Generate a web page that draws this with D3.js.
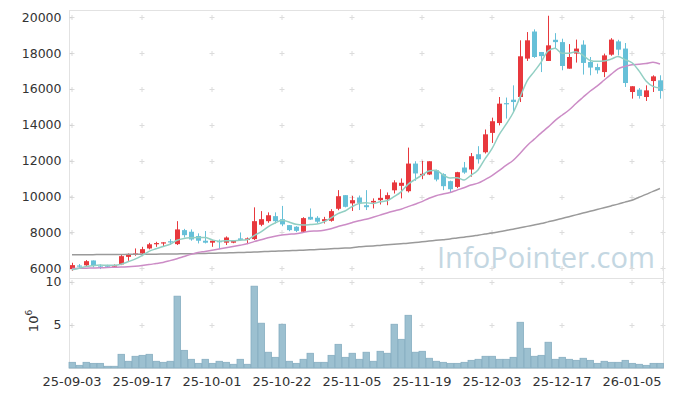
<!DOCTYPE html>
<html><head><meta charset="utf-8">
<script src="https://cdn.jsdelivr.net/npm/d3@7"></script>
<style>
html,body{margin:0;padding:0;background:#fff;}
svg text{font-family:"DejaVu Sans",sans-serif;fill:#333;}
</style></head>
<body><svg id="c" width="673" height="396"></svg>
<script>
const dates = ["25-09-03","25-09-04","25-09-05","25-09-08","25-09-09","25-09-10","25-09-11","25-09-12","25-09-15","25-09-16",
"25-09-17","25-09-18","25-09-19","25-09-22","25-09-23","25-09-24","25-09-25","25-09-26","25-09-29","25-09-30",
"25-10-01","25-10-02","25-10-10","25-10-13","25-10-14","25-10-15","25-10-16","25-10-17","25-10-20","25-10-21",
"25-10-22","25-10-23","25-10-24","25-10-27","25-10-28","25-10-29","25-10-30","25-10-31","25-11-03","25-11-04",
"25-11-05","25-11-06","25-11-07","25-11-10","25-11-11","25-11-12","25-11-13","25-11-14","25-11-17","25-11-18",
"25-11-19","25-11-20","25-11-21","25-11-24","25-11-25","25-11-26","25-11-27","25-11-28","25-12-01","25-12-02",
"25-12-03","25-12-04","25-12-05","25-12-08","25-12-09","25-12-10","25-12-11","25-12-12","25-12-15","25-12-16",
"25-12-17","25-12-18","25-12-19","25-12-22","25-12-23","25-12-24","25-12-26","25-12-29","25-12-30","26-01-02",
"26-01-05","26-01-06","26-01-07","26-01-08","26-01-09"];
const open = [5960,6160,6170,6440,6110,6170,6090,6220,6640,6780,
6830,7110,7360,7420,7510,7350,8130,8040,7800,7540,
7430,7520,7430,7430,7670,7580,7630,8430,8630,8910,
8740,8410,8320,8040,8870,8820,8630,8650,9320,10080,
9620,9950,9520,9670,9800,9850,10350,10600,10300,11840,
11180,11230,11470,11250,10860,10540,11620,11510,12360,12470,
13550,14100,15210,15400,15550,17690,19200,18060,17560,18740,
18610,17130,17970,18470,17500,17220,16940,17910,18650,18250,
15830,15960,15550,16440,16480];
const high = [6310,6240,6460,6440,6220,6200,6220,6780,6830,7110,
7200,7420,7480,7450,7630,8630,8200,8170,7950,8080,
7560,7610,7780,7560,8000,7720,9400,9190,9120,9120,
9480,8410,8350,8850,9340,8910,8870,9300,10360,10080,
10040,10060,10360,9900,10410,10230,10910,11010,12730,11970,
11990,11970,11500,11300,10890,11380,11930,12430,12810,13740,
14400,15550,15520,16200,18710,19170,19320,18060,20080,19110,
18800,18500,18750,18710,17780,17410,17970,18830,18740,18560,
16150,16050,16200,16760,16760];
const low = [5870,6030,6090,6050,5960,6050,6050,6180,6420,6700,
6680,7060,7200,7230,7300,7300,7720,7540,7390,7390,
7200,7070,7300,7400,7540,7350,7580,8350,8540,8500,
8350,8070,8020,8020,8700,8530,8500,8600,9240,9400,
9200,9250,9250,9340,9560,9520,10170,9900,10230,10880,
10970,11200,10850,10360,10250,10470,11270,11110,11840,12400,
12990,13970,14350,14720,15270,17560,17730,16940,17560,18240,
17040,17130,17470,16800,16760,16850,16660,17850,17870,16110,
15460,15460,15330,15830,15460];
const close = [6180,6130,6400,6130,6080,6090,6180,6680,6800,6830,
7070,7340,7410,7450,7450,8170,7850,7610,7540,7430,
7540,7460,7720,7540,7580,7670,8630,8740,8960,8630,
8450,8130,8090,8800,8720,8600,8740,9190,10020,9430,
9800,9650,9410,9760,9930,10080,10790,10770,11840,11290,
11270,11970,10950,10580,10410,11360,11340,12250,12080,13470,
14200,15180,15180,15270,17820,18710,17780,17830,18430,18610,
17280,17780,18250,17450,17190,17040,17870,18750,18190,16330,
16150,15610,15920,16700,15890];
const ma5 = [5920,6000,6100,6150,6184,6166,6176,6232,6366,6516,
6712,6944,7090,7220,7344,7564,7666,7706,7724,7720,
7594,7516,7538,7538,7568,7594,7828,8032,8316,8526,
8682,8582,8452,8420,8438,8468,8590,8810,9054,9196,
9436,9618,9662,9610,9710,9766,9994,10266,10682,10954,
11192,11428,11464,11212,11036,11054,10928,11188,11488,12100,
12668,13436,14022,14660,15530,16432,16952,17482,18114,18272,
17986,17986,18070,17874,17590,17542,17560,17660,17808,17636,
17458,17006,16440,16142,16054];
const ma20 = [5990,6000,6010,6020,6030,6050,6060,6070,6090,6120,
6160,6210,6270,6330,6430,6540,6660,6780,6880,6941,
7009,7076,7142,7212,7287,7366,7489,7592,7700,7790,
7859,7898,7932,8000,8063,8085,8129,8208,8332,8432,
8545,8655,8739,8850,8968,9088,9196,9298,9442,9575,
9716,9908,10051,10140,10224,10362,10492,10645,10748,10950,
11170,11447,11735,12011,12405,12837,13186,13539,13869,14235,
14535,14826,15191,15534,15873,16157,16484,16809,17114,17257,
17355,17376,17413,17485,17388];
const ma60 = [6760,6760,6765,6765,6770,6770,6775,6775,6780,6780,
6785,6790,6790,6795,6800,6805,6810,6815,6825,6830,
6840,6850,6860,6870,6880,6895,6910,6925,6940,6955,
6970,6985,7000,7015,7030,7050,7070,7090,7110,7130,
7150,7200,7225,7250,7280,7310,7340,7370,7400,7440,
7480,7520,7560,7600,7640,7690,7740,7790,7850,7910,
7970,8040,8110,8180,8260,8340,8420,8500,8590,8680,
8780,8880,8980,9080,9180,9280,9380,9480,9580,9690,
9800,9960,10120,10290,10450];
const volume = [0.66,0.31,0.66,0.54,0.54,0.2,0.2,1.59,0.78,1.36,
1.47,1.59,0.78,0.66,0.78,8.34,2.05,1.01,0.54,1.01,
0.54,0.78,0.66,0.43,1.01,0.43,9.5,5.2,1.83,1.24,
5.08,0.78,0.54,1.01,1.71,0.66,0.66,1.47,2.75,1.24,
1.71,1.01,1.83,0.78,1.94,1.71,5.08,3.33,6.12,1.83,
1.94,1.13,0.78,0.66,0.54,0.54,0.66,0.89,1.01,1.36,
1.36,1.01,1.01,1.24,5.31,2.29,1.36,1.47,2.99,1.01,
1.24,1.01,0.89,1.13,0.89,0.54,0.78,0.66,0.66,0.89,
0.54,0.43,0.31,0.54,0.54];
const priceTicks = [6000,8000,10000,12000,14000,16000,18000,20000];
const volTicks = [5,10];
const dateTicks = ["25-09-03","25-09-17","25-10-01","25-10-22","25-11-05","25-11-19","25-12-03","25-12-17","26-01-05"];

const svg = d3.select("#c");
const L = 69, R = 663, T = 10, SEP = 278, B = 368;
const x = d3.scaleBand().domain(dates).range([L - 0.5, R + 0.5]).padding(0);
const cx = d => x(d) + x.bandwidth() / 2;
const y = d3.scaleLinear().domain([5490, 20400]).range([277.5, T]);
const yv = d3.scaleLinear().domain([0, 10.45]).range([B, SEP]);

const UP = "#e8383d", DOWN = "#66c0d8";

// watermark: fit its natural width to the target span
const wm = svg.append("text").attr("x", 437).attr("y", 268)
  .style("font-family", "'Open Sans', sans-serif").style("font-size", "32px")
  .style("fill", "#c4d7e2").text("InfoPointer.com");
const wmW = wm.node().getComputedTextLength();
wm.style("font-size", (32 * 218 / wmW).toFixed(2) + "px");

// grid crosses
const crossG = svg.append("g").attr("stroke", "#dcdcdc").attr("stroke-width", 1);
const crossXs = dateTicks.map(cx).concat([R]);
function cross(px, py) {
  crossG.append("line").attr("x1", px - 2.5).attr("x2", px + 2.5).attr("y1", py).attr("y2", py);
  crossG.append("line").attr("x1", px).attr("x2", px).attr("y1", py - 2.5).attr("y2", py + 2.5);
}
crossXs.forEach(px => {
  priceTicks.forEach(t => cross(px, Math.round(y(t)) + 0.5));
  volTicks.forEach(t => cross(px, Math.round(yv(t)) + 0.5));
});

// frame
const frame = svg.append("g").attr("stroke", "#e2e2e2").attr("fill", "none");
frame.append("rect").attr("x", L + 0.5).attr("y", T + 0.5).attr("width", R - L).attr("height", B - T);
frame.append("line").attr("x1", L).attr("x2", R).attr("y1", SEP + 0.5).attr("y2", SEP + 0.5);

// y axes
const ya = svg.append("g").attr("transform", `translate(${L + 0.5},0)`)
  .call(d3.axisLeft(y).tickValues(priceTicks).tickSize(-3).tickPadding(8).tickFormat(d3.format("d")));
ya.select(".domain").remove();
ya.selectAll("line").attr("stroke", "#d0d0d0");
ya.selectAll("text").style("font-size", "12.5px").style("fill", "#333");

const yva = svg.append("g").attr("transform", `translate(${L + 0.5},0)`)
  .call(d3.axisLeft(yv).tickValues(volTicks).tickSize(-3).tickPadding(8).tickFormat(d3.format("d")));
yva.select(".domain").remove();
yva.selectAll("line").attr("stroke", "#d0d0d0");
yva.selectAll("text").style("font-size", "12.5px").style("fill", "#333");

// x axis
const xa = svg.append("g").attr("transform", `translate(0,${B})`)
  .call(d3.axisBottom(x).tickValues(dateTicks).tickSize(0).tickPadding(9));
xa.select(".domain").remove();
xa.selectAll("text").style("font-size", "13px").style("fill", "#333");

// 10^6 label
const ul = svg.append("text").attr("transform", "translate(38,321) rotate(-90)")
  .attr("text-anchor", "middle").style("font-size", "13px");
ul.append("tspan").text("10");
ul.append("tspan").attr("dy", -6).style("font-size", "9px").text("6");

// volume bars
svg.append("g").selectAll("rect").data(dates).join("rect")
  .attr("x", d => x(d) + 0.5).attr("width", x.bandwidth() - 0.5)
  .attr("y", (d, i) => yv(volume[i])).attr("height", (d, i) => B - yv(volume[i]))
  .attr("fill", "#9cc0d0").attr("stroke", "#86adc0").attr("stroke-width", 0.8);

// candles
const cg = svg.append("g");
dates.forEach((d, i) => {
  const col = close[i] >= open[i] ? UP : DOWN;
  const xc = Math.round(cx(d)) + 0.5;
  cg.append("line").attr("x1", xc).attr("x2", xc).attr("y1", y(high[i])).attr("y2", y(low[i]))
    .attr("stroke", col).attr("stroke-width", 1);
  const top = y(Math.max(open[i], close[i])), bot = y(Math.min(open[i], close[i]));
  cg.append("rect").attr("x", xc - 2.5).attr("width", 5).attr("y", top).attr("height", Math.max(1.2, bot - top))
    .attr("fill", col);
});

// moving averages
const line = arr => d3.line().x((d, i) => cx(dates[i])).y(d => y(d)).curve(d3.curveMonotoneX)(arr);
svg.append("path").attr("d", line(ma60)).attr("fill", "none").attr("stroke", "#9a9a9a").attr("stroke-width", 1.5);
svg.append("path").attr("d", line(ma20)).attr("fill", "none").attr("stroke", "#cc8cc6").attr("stroke-width", 1.5);
svg.append("path").attr("d", line(ma5)).attr("fill", "none").attr("stroke", "#92cfc3").attr("stroke-width", 1.5);
</script></body></html>
